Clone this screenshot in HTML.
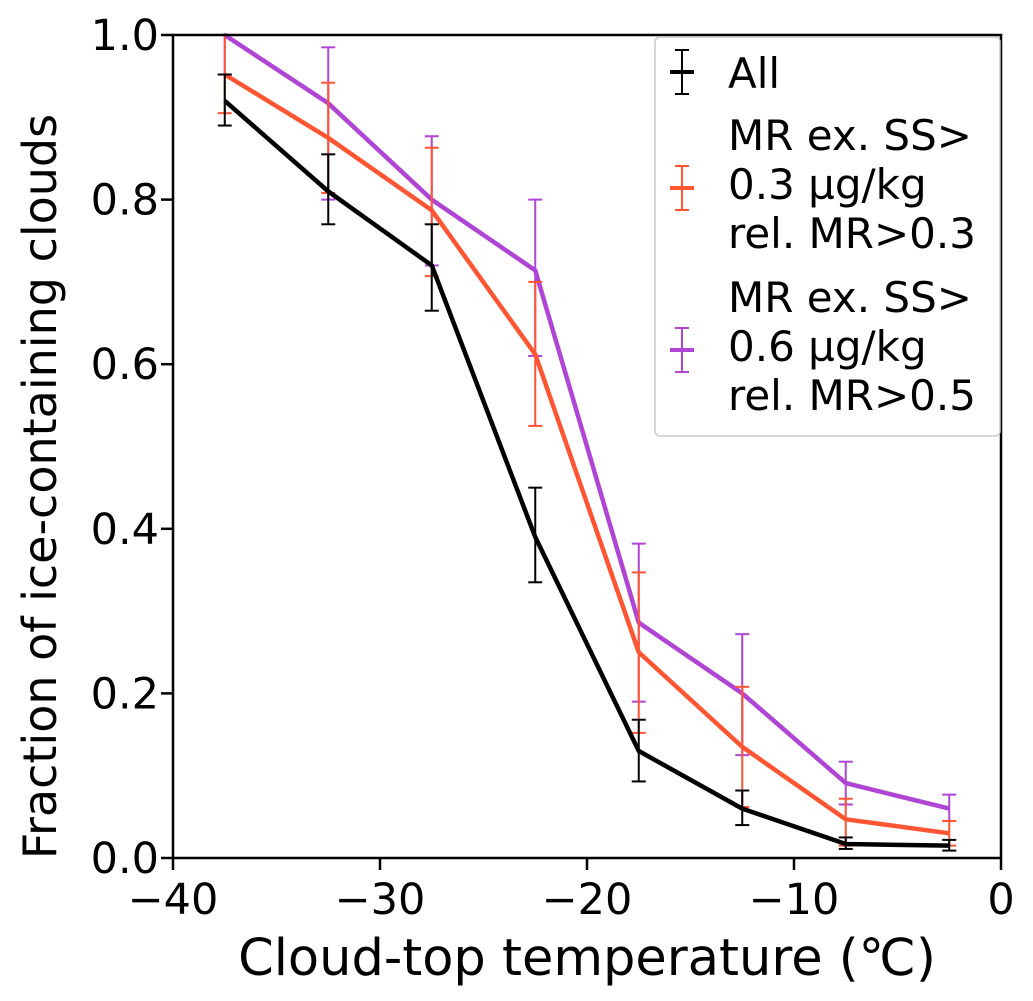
<!DOCTYPE html>
<html><head><meta charset="utf-8"><style>
body{margin:0;background:#fff;}
svg{display:block;font-family:"DejaVu Sans","Liberation Sans",sans-serif;}
</style></head><body>
<svg id="chart" width="1033" height="1001">
<g id="plot"></g>
</svg>
<script>
const temps=[-37.5,-32.5,-27.5,-22.5,-17.5,-12.5,-7.5,-2.5];
const allVals=[0.92,0.81,0.72,0.39,0.13,0.06,0.017,0.015];
const allLo=[0.89,0.77,0.665,0.335,0.093,0.04,0.011,0.009];
const allHi=[0.952,0.855,0.77,0.45,0.168,0.082,0.025,0.022];
const orVals=[0.952,0.875,0.787,0.612,0.25,0.135,0.047,0.03];
const orLo=[0.905,0.808,0.707,0.525,0.152,0.062,0.015,0.015];
const orHi=[1.0,0.942,0.863,0.70,0.347,0.208,0.072,0.045];
const puVals=[1.0,0.917,0.80,0.714,0.286,0.20,0.091,0.06];
const puLo=[0.952,0.80,0.72,0.61,0.19,0.125,0.065,0.045];
const puHi=[1.05,0.985,0.877,0.80,0.382,0.272,0.117,0.077];
const xTicks=[-40,-30,-20,-10,0];
const xTickLabels=["\u221240","\u221230","\u221220","\u221210","0"];
const yTicks=[0,0.2,0.4,0.6,0.8,1.0];
const yTickLabels=["0.0","0.2","0.4","0.6","0.8","1.0"];

const L=173,R=1001,T=35,B=858;
const xs=v=>L+(v+40)/40*(R-L);
const ys=v=>B-v*(B-T);
const NS="http://www.w3.org/2000/svg";
const svg=document.getElementById('chart');
function mk(tag,attrs,parent){const e=document.createElementNS(NS,tag);for(const k in attrs)e.setAttribute(k,attrs[k]);(parent||svg).appendChild(e);return e;}

const clip=mk('clipPath',{id:'cp'});mk('rect',{x:L,y:T-2,width:R-L,height:B-T+2},clip);
const plot=mk('g',{'clip-path':'url(#cp)'});



function series(vals,lo,hi,color,name){
  const g=mk('g',{},plot);
  
  
  temps.forEach((t,i)=>{
    const x=xs(t);
    const eb=mk('g',{stroke:color,'stroke-width':2},g);
    
    
    mk('line',{x1:x,x2:x,y1:ys(lo[i]),y2:ys(hi[i])},eb);
    mk('line',{x1:x-7,x2:x+7,y1:ys(lo[i]),y2:ys(lo[i])},eb);
    mk('line',{x1:x-7,x2:x+7,y1:ys(hi[i]),y2:ys(hi[i])},eb);
  });
  const pts=temps.map((t,i)=>xs(t)+','+ys(vals[i])).join(' ');
  const pl=mk('polyline',{points:pts,fill:'none',stroke:color,'stroke-width':4.5,'stroke-linejoin':'round'},g);
  
  
}
series(puVals,puLo,puHi,'#b044d4','series-mr-0.6');
series(orVals,orLo,orHi,'#ff5533','series-mr-0.3');
series(allVals,allLo,allHi,'#000000','series-all');

const frame=mk('rect',{x:L,y:T,width:R-L,height:B-T,fill:'none',stroke:'#000','stroke-width':2.5});



xTicks.forEach((v,i)=>{
  const x=xs(v);
  mk('line',{x1:x,x2:x,y1:B,y2:B+12,stroke:'#000','stroke-width':2.5});
  const t=mk('text',{x:x,y:B+56,'font-size':43,'text-anchor':'middle'});
  t.textContent=xTickLabels[i];
  
  
});
yTicks.forEach((v,i)=>{
  const y=ys(v);
  mk('line',{x1:L-12,x2:L,y1:y,y2:y,stroke:'#000','stroke-width':2.5});
  const t=mk('text',{x:L-14,y:y+15,'font-size':43,'text-anchor':'end'});
  t.textContent=yTickLabels[i];
  
  
});
const xt=mk('text',{x:587,y:975,'font-size':51,'text-anchor':'middle'});
xt.textContent='Cloud-top temperature (\u2103)';


const yt=mk('text',{x:0,y:0,'font-size':46,'text-anchor':'middle',transform:'translate(56,'+((T+B)/2+40)+') rotate(-90)'});
yt.textContent='Fraction of ice-containing clouds';



// legend
const lg=mk('g',{});


mk('rect',{x:655,y:37,width:345,height:399,rx:5,fill:'#fff',stroke:'#ccc','stroke-width':1.5},lg);
function entry(color,cy,lines,baseY,name){
  const g=mk('g',{},lg);
  
  
  mk('line',{x1:670,x2:694,y1:cy,y2:cy,stroke:color,'stroke-width':4},g);
  mk('line',{x1:682,x2:682,y1:cy-22,y2:cy+22,stroke:color,'stroke-width':2},g);
  mk('line',{x1:675,x2:689,y1:cy-22,y2:cy-22,stroke:color,'stroke-width':2},g);
  mk('line',{x1:675,x2:689,y1:cy+22,y2:cy+22,stroke:color,'stroke-width':2},g);
  lines.forEach((s,i)=>{const t=mk('text',{x:728,y:baseY+i*49,'font-size':42},g);t.textContent=s;});
}
entry('#000',72,['All'],88,'legend-entry-all');
entry('#ff5533',188,['MR ex. SS>','0.3 \u00b5g/kg','rel. MR>0.3'],150,'legend-entry-mr-0.3');
entry('#b044d4',350,['MR ex. SS>','0.6 \u00b5g/kg','rel. MR>0.5'],312,'legend-entry-mr-0.6');
</script>
</body></html>
